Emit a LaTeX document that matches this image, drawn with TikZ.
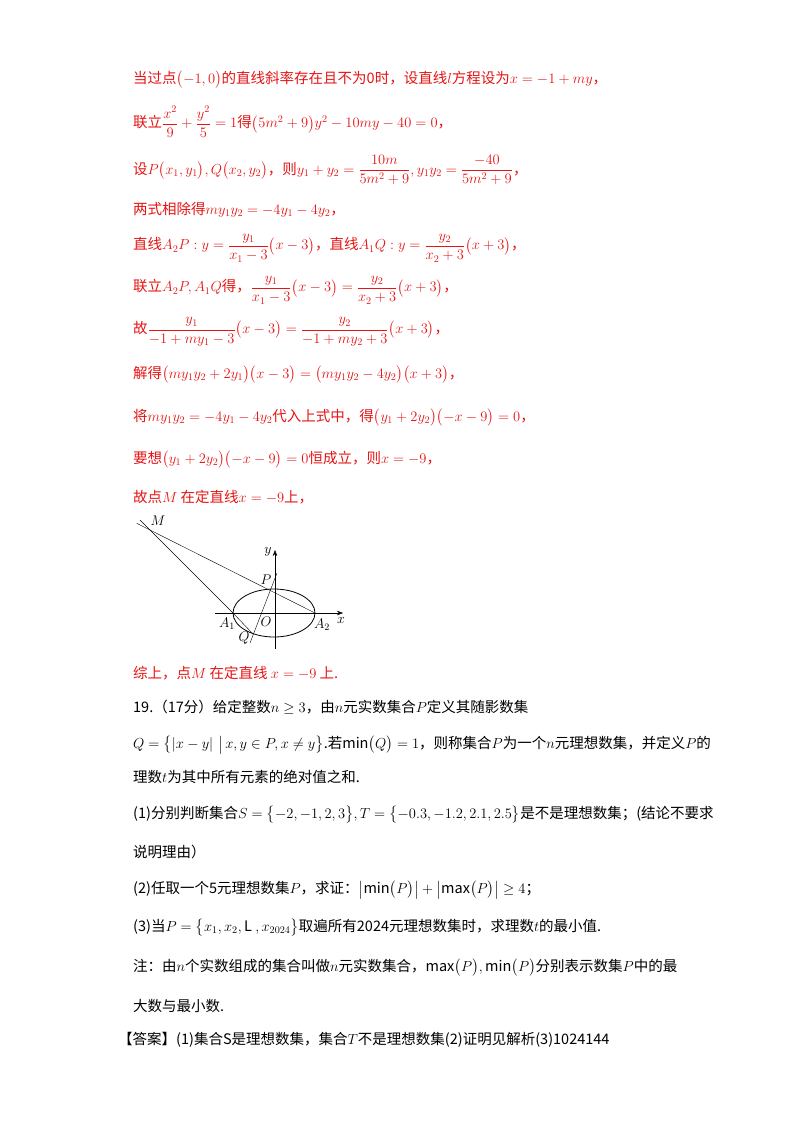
\RequirePackage{fix-cm}
\documentclass[tikz,border=0pt]{standalone}
\usepackage{amsmath}
\usepackage{fontspec}
\setmainfont{Noto Sans CJK SC}
\usetikzlibrary{arrows.meta,calc}
\definecolor{rd}{RGB}{230,20,20}
\begin{document}
\begin{tikzpicture}[x=1pt,y=-1pt,
  ln/.style={anchor=west,inner sep=0pt,font=\fontsize{14.5}{16}\selectfont},
  red/.style={ln,text=rd},
  lab/.style={inner sep=0pt,font=\fontsize{14}{15}\selectfont}]
\useasboundingbox (0,0) rectangle (800,1132);
\fill[white] (0,0) rectangle (800,1132);
\node[red] (l1) at (133,80) {当过点$\bigl(-1,0\bigr)$的直线斜率存在且不为0时，设直线$l$方程设为$x=-1+my$，};
\node[red] (l2) at (133,122) {联立$\dfrac{x^2}{9}+\dfrac{y^2}{5}=1$得$\bigl(5m^2+9\bigr)y^2-10my-40=0$，};
\node[red] (l3) at (133,170) {设$P\bigl(x_1,y_1\bigr),Q\bigl(x_2,y_2\bigr)$，则$y_1+y_2=\dfrac{10m}{5m^2+9},y_1y_2=\dfrac{-40}{5m^2+9}$，};
\node[red] (l4) at (133,210) {两式相除得$my_1y_2=-4y_1-4y_2$，};
\node[red] (l5) at (133,248) {直线$A_2P:y=\dfrac{y_1}{x_1-3}\bigl(x-3\bigr)$，直线$A_1Q:y=\dfrac{y_2}{x_2+3}\bigl(x+3\bigr)$，};
\node[red] (l6) at (133,290) {联立$A_2P,A_1Q$得，$\dfrac{y_1}{x_1-3}\bigl(x-3\bigr)=\dfrac{y_2}{x_2+3}\bigl(x+3\bigr)$，};
\node[red] (l7) at (133,332) {故$\dfrac{y_1}{-1+my_1-3}\bigl(x-3\bigr)=\dfrac{y_2}{-1+my_2+3}\bigl(x+3\bigr)$，};
\node[red] (l8) at (133,375) {解得$\bigl(my_1y_2+2y_1\bigr)\bigl(x-3\bigr)=\bigl(my_1y_2-4y_2\bigr)\bigl(x+3\bigr)$，};
\node[red] (l9) at (133,418) {将$my_1y_2=-4y_1-4y_2$代入上式中，得$\bigl(y_1+2y_2\bigr)\bigl(-x-9\bigr)=0$，};
\node[red] (l10) at (133,460) {要想$\bigl(y_1+2y_2\bigr)\bigl(-x-9\bigr)=0$恒成立，则$x=-9$，};
\node[red] (l11) at (133,497) {故点$M$ 在定直线$x=-9$上，};
% figure
\coordinate (O) at (274,613);
\draw[thick] (O) ellipse (41 and 24);
\coordinate (xa) at (215,613); \coordinate (xb) at (343,613);
\coordinate (ya) at (275,649); \coordinate (yb) at (275,550);
\draw[-{Stealth[length=6pt]}] (xa) -- (xb);
\draw[-{Stealth[length=6pt]}] (ya) -- (yb);
\coordinate (M) at (150,530);
\coordinate (A1) at (233,613); \coordinate (A2) at (315,613);
\coordinate (P) at (271,591); \coordinate (Q) at (253,634);
\coordinate (e1) at ($(M)!-0.08!(A2)$); \coordinate (e2) at ($(M)!-0.12!(A1)$);
\coordinate (q1) at (250,643); \coordinate (p1) at (277,573);
\draw (e1) -- (A2);
\draw (e2) -- (A1) -- (Q);
\draw (q1) -- (p1);
\node[lab] (lM) at (158,521) {$M$};
\node[lab] (ly) at (268,552) {$y$};
\node[lab] (lP) at (266,580) {$P$};
\node[lab] (lA1) at (227,624) {$A_1$};
\node[lab] (lO) at (266,622) {$O$};
\node[lab] (lA2) at (322,625) {$A_2$};
\node[lab] (lQ) at (244,638) {$Q$};
\node[lab] (lx) at (341,620) {$x$};
\node[red] (l12) at (133,673) {综上，点$M$ 在定直线 $x=-9$ 上.};
\node[ln] (l13) at (133,707) {19.（17分）给定整数$n\geq3$，由$n$元实数集合$P$定义其随影数集};
\node[ln] (l14) at (133,745) {$Q=\bigl\{\left|x-y\right|\,\big|\,x,y\in P,x\neq y\bigr\}$.若$\min\bigl(Q\bigr)=1$，则称集合$P$为一个$n$元理想数集，并定义$P$的};
\node[ln] (l15) at (133,777) {理数$t$为其中所有元素的绝对值之和.};
\node[ln] (l16) at (133,815) {(1)分别判断集合$S=\bigl\{-2,-1,2,3\bigr\},T=\bigl\{-0.3,-1.2,2.1,2.5\bigr\}$是不是理想数集；(结论不要求};
\node[ln] (l17) at (133,852) {说明理由）};
\node[ln] (l18) at (133,890) {(2)任取一个5元理想数集$P$，求证：$\bigl|\min\bigl(P\bigr)\bigr|+\bigl|\max\bigl(P\bigr)\bigr|\geq4$；};
\node[ln] (l19) at (133,928) {(3)当$P=\bigl\{x_1,x_2,\mathrm{L}\ ,x_{2024}\bigr\}$取遍所有2024元理想数集时，求理数$t$的最小值.};
\node[ln] (l20) at (133,968) {注：由$n$个实数组成的集合叫做$n$元实数集合，$\max\bigl(P\bigr),\min\bigl(P\bigr)$分别表示数集$P$中的最};
\node[ln] (l21) at (133,1006) {大数与最小数.};
\node[ln] (l22) at (118,1040) {【答案】(1)集合S是理想数集，集合$T$不是理想数集(2)证明见解析(3)1024144};
\end{tikzpicture}
\end{document}
